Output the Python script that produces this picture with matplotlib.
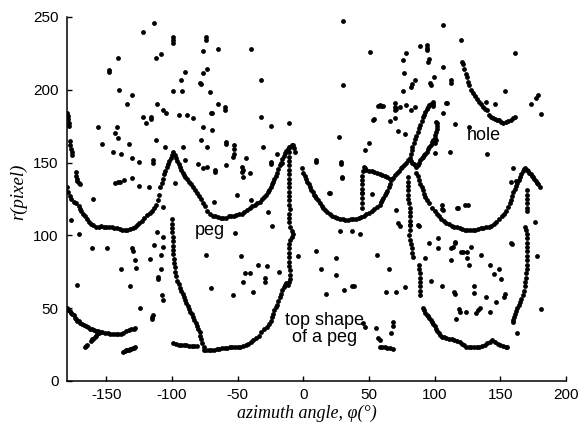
import numpy as np
import matplotlib
matplotlib.use("Agg")
import matplotlib.pyplot as plt

plt.rcParams["axes.unicode_minus"] = False

# ---- data: (azimuth angle deg, r pixel) ----
left_top = [(-180,184),(-179.5,182),(-179,180),(-178.5,177),(-178.5,175),(-178,165),(-177.5,162),(-177,159.5),
            (-176.5,157),(-176,155),(-173.5,143.5),(-173,141),(-172.5,139),(-172,137.5),(-171,136),(-170,135)]

left_u = [(-180,133),(-179,130),(-178,127),(-177,125),(-175,123),(-173,122),(-171,120),(-170,118),(-169,116.5),
          (-168,115),(-166.5,113),(-165,111),(-163.5,109),(-162,108),(-160,107),(-158,106),(-156,106),(-154,106.5),
          (-152,106),(-150,106),(-148,106),(-146,105.5),(-144,105),(-142,105),(-140,104.5),(-138,104),(-136,104),
          (-134,104),(-132,104.5),(-130,105),(-128.5,106),(-127,107),(-125,108.5),(-123,110),(-121,112),(-119,114),
          (-117,115.5),(-115,117),(-113.5,119),(-112,121),(-111,124),(-110,128),(-109,133),(-108,136),(-107,139),
          (-106,142),(-105,144),(-104,147),(-103,149),(-102,151),(-101,153),(-100,155.5),(-99,157),(-98,155.5),
          (-97,153),(-96,151),(-95,149),(-94,147),(-93,145),(-92,143),(-91,141.5),(-90,140),(-88.5,138.5),(-87,137),
          (-85.5,135),(-84,133),(-82.5,131),(-81,129),(-79.5,127),(-78,125),(-76.5,122),(-75,120),(-73,117),
          (-71,114.5),(-69,113.5),(-67,113),(-65,112.5),(-63,112),(-61,112),(-59,112),(-57,113),(-55,113),
          (-53,113.5),(-51,114),(-49,114.5),(-47,115),(-45,116),(-43,117.5),(-41,119),(-39,120),(-37,121),(-35,122),
          (-33,123),(-31.5,125),(-30,126.5),(-28.5,128),(-27,129.5),(-26,131),(-25,133),(-24,135),(-23,137),
          (-22,139),(-21,141),(-20,143),(-19,145.5),(-18,148),(-17,150),(-16,152.5),(-15,154.5),(-14,156.5),
          (-13,158),(-12,159.5),(-11,160.5),(-10,161),(-9,162),(-8,162),(-7,160),(-6,157)]

vert_m11 = [(-11,157),(-11,154),(-11,151),(-11,148),(-11,145),(-11,142),(-11,139),(-11,136),(-11,133),(-11,130),
            (-11,127),(-11,124),(-11,121),(-10.5,118),(-11,115),(-11,112),(-11,109),(-10,106),(-9,103),(-8,101),
            (-9,99),(-10.5,97),(-11,94),(-11,91),(-11,88),(-11,85),(-11,82),(-11,79),(-10.5,76),(-10,73),(-10,70),
            (-11,68),(-12,66)]

mid_u = [(-1,146),(0,143),(1,141),(2,139),(3,137),(4,135),(5,133),(6,131),(7,129.5),(8,128),(9,127),(10,126),
         (11.5,124),(13,122),(14,120.5),(15,119),(16.5,117.5),(18,116),(20,115),(22,113.5),(24,112.5),(26,112),
         (28,111.5),(30,111),(32,110.5),(34,110.5),(36,111),(38,111),(40,111.5),(42,112),(44,112.5),(46,113.5),
         (48,114.5),(50,115.5),(52,117),(54,118),(56,119.5),(58,121),(59,123),(60,124.5),(61,126),(62,127.5),
         (63,129),(64,130.5),(65,133),(66,135.5),(67,138),(68,139.5),(69.5,141.5),(71,143),(72.5,144.5),(74,146),
         (75.5,147),(77,148.5),(78.5,150),(80,152),(81,153)]

left_bump = [(44.5,119),(44.5,122),(44.5,126),(44.5,129),(45,132),(45,135),(45,138),(45,141),(45.5,144),(46,147),
             (47,146),(48,145),(50,144.5),(52,144),(54,143.5),(56,143),(58,142),(60,141.5),(62,141),(64,140),
             (66,139),(67,138.5)]

line_a = [(82,156),(82.5,158.5),(83,161),(84,163.5),(85,166),(86,168.5),(87,171),(88,173.5),(89,176),(90,178.5),
          (91,181),(92,183),(93,185),(94,186.5),(95,188),(96,189.5),(97.5,190.5)]

line_b = [(82,151),(83,150),(84,149),(85,148),(86,147),(87,148.5),(88,150),(89,151.5),(90,153),(91,154),(92,155),
          (93,156),(94,157),(95,159),(96,160.5),(97,162),(98,164),(99,165.5),(100,167),(100.5,169),(101,171),
          (101.5,173),(102,175),(102,177)]

right_u = [(86,143),(87,140.5),(88,138),(89,135.5),(90,133),(91,131),(92,128.5),(93,126.5),(94.5,124),(96,122),
           (98,119),(100,117),(101.5,115),(103,113.5),(105,111.5),(107,110),(109,108.5),(111,107.5),(113,106.5),
           (115,106),(117,105.5),(119,105),(121,104.5),(123,104),(125,104),(127,104),(129,104),(131,104),
           (133,104.5),(135,105),(137,105),(139,105.5),(141,106),(143,106.5),(145,107.5),(147,109),(149,111),
           (151,113),(152.5,115),(154,117),(155.5,119.5),(157,122),(158,124.5),(159,127),(160,129.5),(161,132),
           (162,134),(163,136),(164,138),(165,140),(166,142),(167,144),(168,145.5),(169,146),(170,145),(171,144),
           (172,143),(173,142),(174,141),(175,140),(176,139),(177,137.5),(178,136),(179,135),(180,133.5)]

right_vert = [(170,131),(170,128),(170,125),(170,122),(170,119),(170,117),(169,106),(169.5,104),(170,101),(170,98),
              (170,95),(170,92),(170.5,89),(170.5,86),(170,83),(170,80),(170,77),(169.5,74),(169.5,71),(169,68),
              (168.5,65),(168,62),(167,59),(166,56.5),(165,54),(164,52),(163,50),(162,48),(161,46),(160.5,44),
              (160,42),(159.5,40.5)]

vert_80 = [(79.5,140),(79.5,137),(79.5,134),(79.5,131),(80,128),(80,125),(80.5,122),(81,119),(81,116),(81,113),
           (81,110),(81,107),(81,104),(80.5,100),(81,97),(82,94),(82.5,91),(83,88),(83.5,85),(88,80),(88,77),
           (88.5,74),(88.5,71),(89,68),(89,65),(89,62),(89,59)]

bottom_right = [(91,50),(92,48.5),(93,47),(94,45.5),(95,44.5),(96,43),(97,42),(98,40.5),(99,39),(100,37.5),
                (101,36),(102,34.5),(103,33),(104,31.5),(105.5,30.5),(107,30),(109,29.5),(111,29),(113,28.5),
                (115,28),(117,27.5),(119,26.5),(120.5,25.5),(122,24.5),(124,23.5),(126,23),(128,23),(130,23),
                (132,23),(134,23.5),(136,24),(138,25),(140,26),(142,27),(144,28),(146,27),(148,25.5),(150,24.5),
                (152,24),(154,23.5),(155,23)]

bottom_mid = [(58,23.5),(60,23),(62,23),(64,22.5),(66,22.5),(68,22)]

peg_left = [(-100,111),(-100,108),(-100,105),(-100,102),(-99.5,99),(-99.5,96),(-99.5,93),(-99,90),(-99,87),
            (-98.5,84),(-98.5,81),(-98,78),(-97.5,75),(-97,72),(-96,69),(-95,66.5),(-94,64),(-93,61.5),(-92,59.5),
            (-91,57.5),(-90,55.5),(-89,53.5),(-88,51.5),(-87,49.5),(-86,47.5),(-85,46),(-84,44),(-83,42),(-82,40),
            (-81,38),(-80,36),(-79,33.5),(-78.5,31),(-78,28.5),(-77,26),(-76,23.5),(-75.5,21.5)]

peg_foot = [(-99,26),(-97,25.5),(-95,25),(-93,24.5),(-91,24.5),(-89,24.5),(-87,24),(-85,24),(-83,24),(-81,24)]

peg_bottom = [(-74,21.5),(-72,21),(-70,21),(-68,21.5),(-66,22),(-64,22),(-62,22.5),(-60,22.5),(-58,22.5),(-56,23),
              (-54,23),(-52,23),(-50,23),(-48,23.5),(-46,24),(-44,25),(-42,25.5),(-40,26.5),(-38,28),(-36,29.5),
              (-34,31),(-32,33.5),(-30,35.5),(-28,37),(-26.5,39),(-25,41.5),(-24,44),(-23,46),(-22,48.5),(-21,50.5),
              (-20,52.5),(-19,55),(-18,57.5),(-17,60),(-16,62.5),(-15,64.5),(-14,66),(-13,67)]

left_low = [(-180,50),(-179,49),(-178,48),(-177,47),(-176,46),(-175,45),(-174,43.5),(-173,42.5),(-172,41.5),
            (-171,41),(-170,40),(-168.5,39),(-167,38.5),(-165.5,37.5),(-164,37),(-162.5,36),(-161,35.5),
            (-159.5,35),(-158,34.5),(-156.5,34),(-155,33.5),(-153,33.5),(-151,33),(-149,33),(-147,32.5),(-145,32),
            (-143,32),(-141,32),(-139,32),(-137,33),(-135,34),(-133,35),(-131,35.5),(-129,36),(-128,36.5)]

left_branch = [(-166.5,23.5),(-165.5,24),(-164.5,25),(-162,27.5),(-161,28.5),(-160,29),(-159,30),(-158,31),
               (-157,32),(-156,33)]

left_cluster = [(-137,20),(-136,20.5),(-135,21),(-134,21),(-133,21.5),(-132,22),(-131,22),(-130,22.5),
                (-129,22.5),(-128,23)]

hole = [(120.6,219),(121.6,218),(122.4,214),(123.5,211),(124.6,208.5),(125.5,205.5),(126.5,203),(128,200),
        (129,198),(130.5,196),(132,193.5),(133.5,191.5),(135,190),(136.8,188.4),(138.5,187),(140,186),
        (141.5,183),(143,181.5),(144.5,180.5),(146,180),(147.5,179.5),(149,179),(150.5,178),(152,177.5),
        (154,178),(156,178.5),(158,179.5),(159.7,180.4),(161.5,181)]

scatter_pts = [
    (-121.9,239.5),(-113.6,246),(-99,236.5),(-99,234),(-99,232),(-147.8,213.5),(-147.8,212.5),(-141,221.6),
    (-112.3,221.6),(-108.5,224.6),(-90.2,212.4),(-93.5,206.7),(-140.2,200),(-130.8,196.4),(-99.1,199.4),
    (-92.7,199.4),(-134.1,190),(-111.8,190),(-106.7,186),(-104.7,184),(-121.9,181),(-120.1,177),(-116.3,181.5),
    (-116.3,180),(-94.5,182.7),(-88.4,182.7),(-84.3,180.4),(-156.6,174.7),(-143.5,170.5),(-142.2,174.7),
    (-141,166.6),(-153.6,162.8),(-133,162.8),(-112.3,165.5),(-105.4,161),(-92,161),(-144.8,157.5),(-139.1,155.6),
    (-130.8,153.4),(-125,150.2),(-114.3,150),(-114.3,151.5),(-90.2,151.8),(-80.5,148.8),(-143.5,135.8),
    (-141.5,136.5),(-139.7,136.9),(-136.6,138),(-130.8,139.2),(-125,134),(-117.4,133.4),(-97.8,135.8),(-160.4,125),
    (-177.2,110.6),(-170.6,100.7),(-161.2,91),(-149.8,91.6),(-130.8,91),(-129.5,89.5),(-128.3,83),(-127.5,77.8),
    (-139.1,76.7),(-132,65.2),(-172.2,65.9),(-124.4,49.9),(-116.8,83.5),(-113.8,93.4),(-111.3,102),(-107.2,99.1),
    (-108.5,86.5),(-106.7,92.2),(-106.7,119.7),(-108.2,76.7),(-110.5,70),(-110.5,71.5),(-108,59),(-106.7,55.6),
    (-114.3,45.3),(-115,44),(-115.5,42.4),
    (30.3,247.5),(-74.2,236.5),(-74.2,234),(-76.7,226.9),(-64.9,228),(-39.5,228),(51.1,226.2),(-73.7,214),
    (-76.7,211.7),(-32.6,206.7),(-78.8,204.9),(-78,204),(30.3,203.3),(-71.2,198.7),(-65.3,190.2),(-59.8,188.4),
    (-59.8,186),(57,188.9),(59.5,188.9),(-70.7,184.3),(-69.5,184.3),(-32.6,181),(54,179.6),(-76.7,174.7),
    (-24.7,175.1),(-10.8,176.9),(-69.9,172.4),(-78,165.5),(-59,164.4),(-59,162.6),(27,167.3),(50,163.3),
    (-73.7,161),(-52.5,162),(-52.5,159),(-53,156),(-53.4,154),(-30.6,161),(-43.3,153.4),(-19.8,155.6),(10,151.8),
    (10,150.6),(29,150.1),(29,149),(-76.7,146),(-73.7,147.2),(-59,148),(-24.7,150.6),(-24.7,149),(-16.6,149.4),
    (-47.1,147.2),(-46,145),(-47.1,143.8),(-46.3,140.3),(-40.7,142.6),(-67.4,145),(-67,143.7),(29.5,139.6),
    (-50.4,127.7),(-40,124.3),(19.6,128.8),(44.3,129.3),(51.9,128.4),
    (-68.1,122.7),(-26.8,115.9),(-23.5,106.5),(-52.1,101.4),(-74.2,86.5),(-47.6,85.9),(-34.4,79.7),(-27.6,79.2),
    (-44.5,74.4),(-40.7,74.4),(-29.3,70.5),(-29.3,67.7),(-18.4,75.1),(-46.3,67.7),(-70.7,64.1),(-38.2,61.3),
    (-53.9,59.1),(-4,85.9),(10,89.3),(24.7,84.7),(13.8,76.9),(24.7,72.8),(38.4,65.5),(37,65.5),(30.8,62.5),
    (17.6,59.5),(27.8,103),(36.7,103),(43,100.7),(56.2,86.5),(45.5,39.6),(46.8,37.3),(55.2,36.6),(57,29.3),
    (58.2,28.2),
    (106.4,244.5),(120.4,234.2),(94.5,230.8),(94.5,229),(94.5,227.3),(88.6,230.3),(78,225.6),(161.5,225),
    (76,220.5),(95.8,220.9),(106.4,215.4),(76.5,211.7),(99.5,209),(84.8,206.7),(82.3,201.7),(83,204),
    (112.8,206.7),(112.8,204.5),(97.5,203.3),(76,199.4),(153.8,199.4),(178.7,196.4),(177.4,194.2),(173.6,190.2),
    (180.7,183.4),(138.9,191.7),(145.7,190.2),(98.7,191.8),(98.7,190),(98.7,188.9),(109.4,191.2),(60.3,188.9),
    (69.6,191.2),(69.6,188.5),(69.6,186),(73.4,188),(78.5,189.6),(82.3,186),(84.8,188),(69.6,180.3),(65.8,178.8),
    (106.4,183.8),(115.3,176.5),(126.2,174.2),(72,171.9),(77.2,169.6),(100,163.2),(101.3,165.5),(100.5,156.3),
    (111.5,157.5),(139.9,155.6),(159.7,146.5),(96.2,204.4),(95,219.3),(101.3,178.2),(53.1,179.3),(46.8,158.3),
    (29.8,140.3),(58.2,189.6),(70.9,187),(108.9,190.6),(20,128.8),
    (70.4,117.4),(72.1,108.3),(73.4,106.7),(87.9,106.5),(105.9,120.9),(106.4,117.4),(105.5,118),(117.8,118.6),
    (122.9,120.9),(125.4,120.9),(95.7,95),(102.6,98.4),(102.6,91.6),(112.2,91),(114,92.2),(115.3,95),(119.8,88.8),
    (121.6,88.3),(124.6,88.3),(125,84.2),(126.2,79.7),(128,92.2),(112.2,83.1),(92.5,84.7),(135.6,86.5),(141.9,80),
    (148.8,76.9),(145,73.5),(150.8,70),(159.1,93.8),(158.4,94.5),(176.2,109.4),(178,85.9),(97.5,68.7),(105.6,65.5),
    (114.5,61.3),(115.3,59.5),(130,65.5),(130,60.2),(139.4,58),(153.3,59.5),(152.5,57.8),(147,54.4),(118.3,49.5),
    (119.1,47.6),(124.1,47.1),(133,48.8),(131.7,46.4),(134.3,49.9),(141.9,47.1),(116.5,42.3),(180.7,49.4),
    (163,33.2),(65,76.9),(77.2,64.7),(63.3,60.9),(70.9,60.9),(68.3,40.7),(68.3,38),(66.6,32.7),(158.4,136.9),
    (162.2,137.4),(117.3,118.6),(115.3,95.7),(81,107),(87.3,107),
]

groups = [left_top, left_u, vert_m11, mid_u, left_bump, line_a, line_b, right_u, right_vert, vert_80,
          bottom_right, bottom_mid, peg_left, peg_foot, peg_bottom, left_low, left_branch, left_cluster,
          hole, scatter_pts]
pts = np.array([p for g in groups for p in g])

fig = plt.figure(figsize=(5.78, 4.30), dpi=100)
ax = fig.add_axes([0.1159, 0.114, 0.8633, 0.8465])

ax.scatter(pts[:, 0], pts[:, 1], s=12, c="black", linewidths=0)

ax.set_xlim(-180, 200)
ax.set_ylim(0, 250)
ax.set_xticks([-150, -100, -50, 0, 50, 100, 150, 200])
ax.set_yticks([0, 50, 100, 150, 200, 250])

for side in ["top", "right"]:
    ax.spines[side].set_visible(False)
for side in ["left", "bottom"]:
    ax.spines[side].set_linewidth(1.1)

ax.tick_params(direction="in", length=3.6, width=1.0, labelsize=11)
ax.tick_params(axis="x", pad=5)
ax.tick_params(axis="y", pad=6)
for lab in ax.get_xticklabels() + ax.get_yticklabels():
    lab.set_fontfamily("Liberation Sans")

ax.set_xlabel("azimuth angle, φ(°)", fontsize=13, fontstyle="italic",
              family=["Liberation Serif", "DejaVu Serif"])
ax.set_ylabel("r(pixel)", fontsize=13.5, fontstyle="italic", family="Liberation Serif")
ax.xaxis.set_label_coords(0.481, -0.065)
ax.yaxis.set_label_coords(-0.08, 0.52)

ax.text(-71, 103.5, "peg", fontsize=13, family="Liberation Sans", ha="center", va="center")
ax.text(137.6, 168.5, "hole", fontsize=13, family="Liberation Sans", ha="center", va="center")
ax.text(16.3, 36, "top shape\nof a peg", fontsize=13, family="Liberation Sans",
        ha="center", va="center", linespacing=1.0)

fig.savefig("out.png", dpi=100)
